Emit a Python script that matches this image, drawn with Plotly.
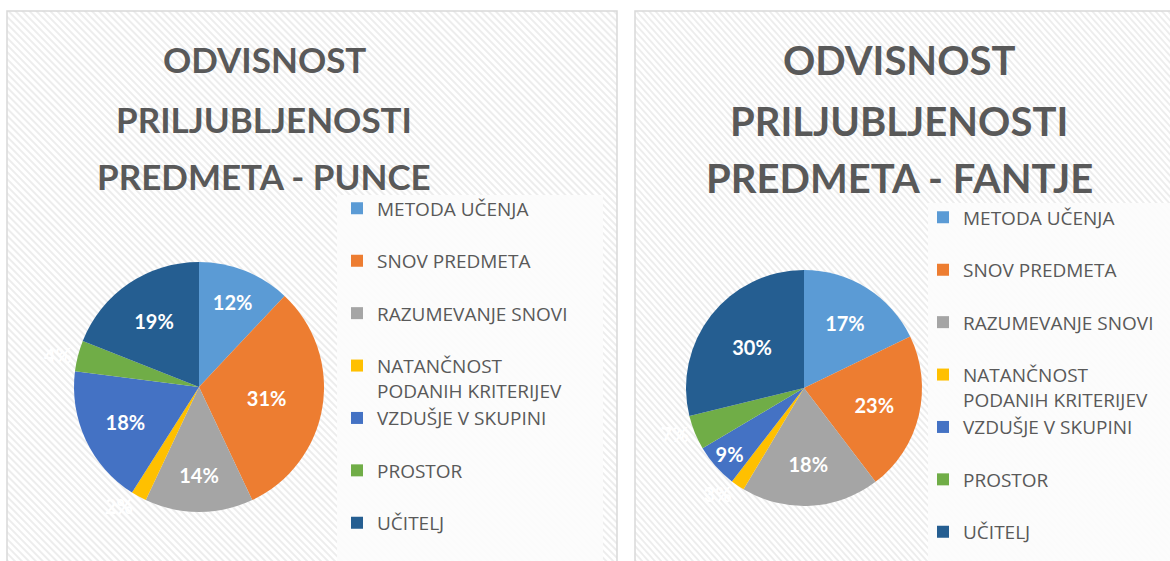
import base64
import plotly.graph_objects as go

# ---------------- data ----------------
categories = [
    "METODA UČENJA",
    "SNOV PREDMETA",
    "RAZUMEVANJE SNOVI",
    "NATANČNOST PODANIH KRITERIJEV",
    "VZDUŠJE V SKUPINI",
    "PROSTOR",
    "UČITELJ",
]
punce_values = [12, 31, 14, 2, 18, 4, 19]
punce_labels = [12, 31, 14, 2, 18, 4, 19]
fantje_values = [17.8, 21.8, 18.9, 1.9, 6.0, 4.7, 28.8]
fantje_labels = [17, 23, 18, 3, 9, 7, 30]
title_punce = ["ODVISNOST", "PRILJUBLJENOSTI", "PREDMETA - PUNCE"]
title_fantje = ["ODVISNOST", "PRILJUBLJENOSTI", "PREDMETA - FANTJE"]
colors = ["#5B9BD5", "#ED7D31", "#A5A5A5", "#FFC000", "#4472C4", "#70AD47", "#255E91"]

W, H = 1170, 561
TXT = "#595959"
LEG_SIZE = 19


def px(x):
    return x / W


def py(y):
    return 1 - y / H


def legend_label(cat, last=False, suffix=""):
    words = cat.split(" ")
    if len(cat) > 20:
        lines = [words[0], " ".join(words[1:])]
    elif last:
        lines = [cat]
    else:
        lines = [cat, "\u00a0"]
    return "<br>".join(lines) + suffix


n = len(categories)
# the two pies need distinct label strings so each gets its own legend
leg_labels_p = [legend_label(c, i == n - 1) for i, c in enumerate(categories)]
leg_labels_f = [legend_label(c, i == n - 1, "\u200b") for i, c in enumerate(categories)]


def positions(vals):
    return ["inside" if v >= 8 else "outside" for v in vals]


label_font = dict(family="Lato", size=20, color="white", weight="bold")

fig = go.Figure()

fig.add_trace(go.Pie(
    labels=leg_labels_p, values=punce_values, text=punce_labels,
    texttemplate="%{text}%", textposition=positions(punce_labels),
    insidetextorientation="horizontal",
    marker=dict(colors=colors, line=dict(width=0)),
    sort=False, direction="clockwise", rotation=0,
    textfont=label_font, outsidetextfont=label_font,
    domain=dict(x=[px(74), px(324)], y=[py(512), py(262)]),
    legend="legend", automargin=False, hoverinfo="skip",
))

fig.add_trace(go.Pie(
    labels=leg_labels_f, values=fantje_values, text=fantje_labels,
    texttemplate="%{text}%", textposition=positions(fantje_labels),
    insidetextorientation="horizontal",
    marker=dict(colors=colors, line=dict(width=0)),
    sort=False, direction="clockwise", rotation=0,
    textfont=label_font, outsidetextfont=label_font,
    domain=dict(x=[px(686), px(922)], y=[py(506), py(270)]),
    legend="legend2", automargin=False, hoverinfo="skip",
))

# hatch background image
svg = (
    "<svg xmlns='http://www.w3.org/2000/svg' width='620' height='560'>"
    "<defs><pattern id='p' width='5' height='5' patternUnits='userSpaceOnUse' "
    "patternTransform='rotate(-45)'>"
    "<rect width='5' height='5' fill='#ffffff'/>"
    "<rect width='2' height='5' fill='#ededed'/></pattern></defs>"
    "<rect width='620' height='560' fill='url(#p)'/></svg>"
)
src = "data:image/svg+xml;base64," + base64.b64encode(svg.encode()).decode()

panels = [(7, 617), (635, 1190)]
images = []
shapes = []
for x0, x1 in panels:
    images.append(dict(source=src, xref="paper", yref="paper", x=px(x0), y=py(11),
                       sizex=px(x1) - px(x0), sizey=py(11) - py(570),
                       xanchor="left", yanchor="top", sizing="stretch", layer="below"))
    shapes.append(dict(type="rect", xref="paper", yref="paper", x0=px(x0), x1=px(x1),
                       y0=py(570), y1=py(11), line=dict(color="#d9d9d9", width=1.5),
                       fillcolor="rgba(0,0,0,0)", layer="below"))
# legend boxes
for x0, x1, y0 in [(337, 603, 195), (928, 1175, 203)]:
    shapes.append(dict(type="rect", xref="paper", yref="paper", x0=px(x0), x1=px(x1),
                       y0=py(570), y1=py(y0), line=dict(width=0),
                       fillcolor="rgba(252,252,252,0.9)", layer="below"))

annotations = []
for lines, cx, size, ys in [(title_punce, 264, 35, [59, 119, 176]),
                            (title_fantje, 899, 40, [59.5, 121, 178])]:
    for line, yy in zip(lines, ys):
        annotations.append(dict(text=line, x=px(cx), y=py(yy), xref="paper", yref="paper",
                                xanchor="center", yanchor="middle", showarrow=False,
                                font=dict(family="Lato", size=size, color=TXT, weight="bold")))

leg_common = dict(xanchor="left", yanchor="top", bgcolor="rgba(0,0,0,0)", valign="top",
                  font=dict(family="Open Sans", size=LEG_SIZE, color=TXT),
                  tracegroupgap=0, itemclick=False, itemdoubleclick=False)

fig.update_layout(
    width=W, height=H, margin=dict(l=0, r=0, t=0, b=0, autoexpand=False),
    paper_bgcolor="white", plot_bgcolor="white",
    images=images, shapes=shapes, annotations=annotations,
    legend=dict(x=px(337), y=py(189.5), **leg_common),
    legend2=dict(x=px(923), y=py(198.5), **leg_common),
    showlegend=True,
)

fig.write_html("out.html", config={"displayModeBar": False},
               post_script="document.body.style.margin='0';")
